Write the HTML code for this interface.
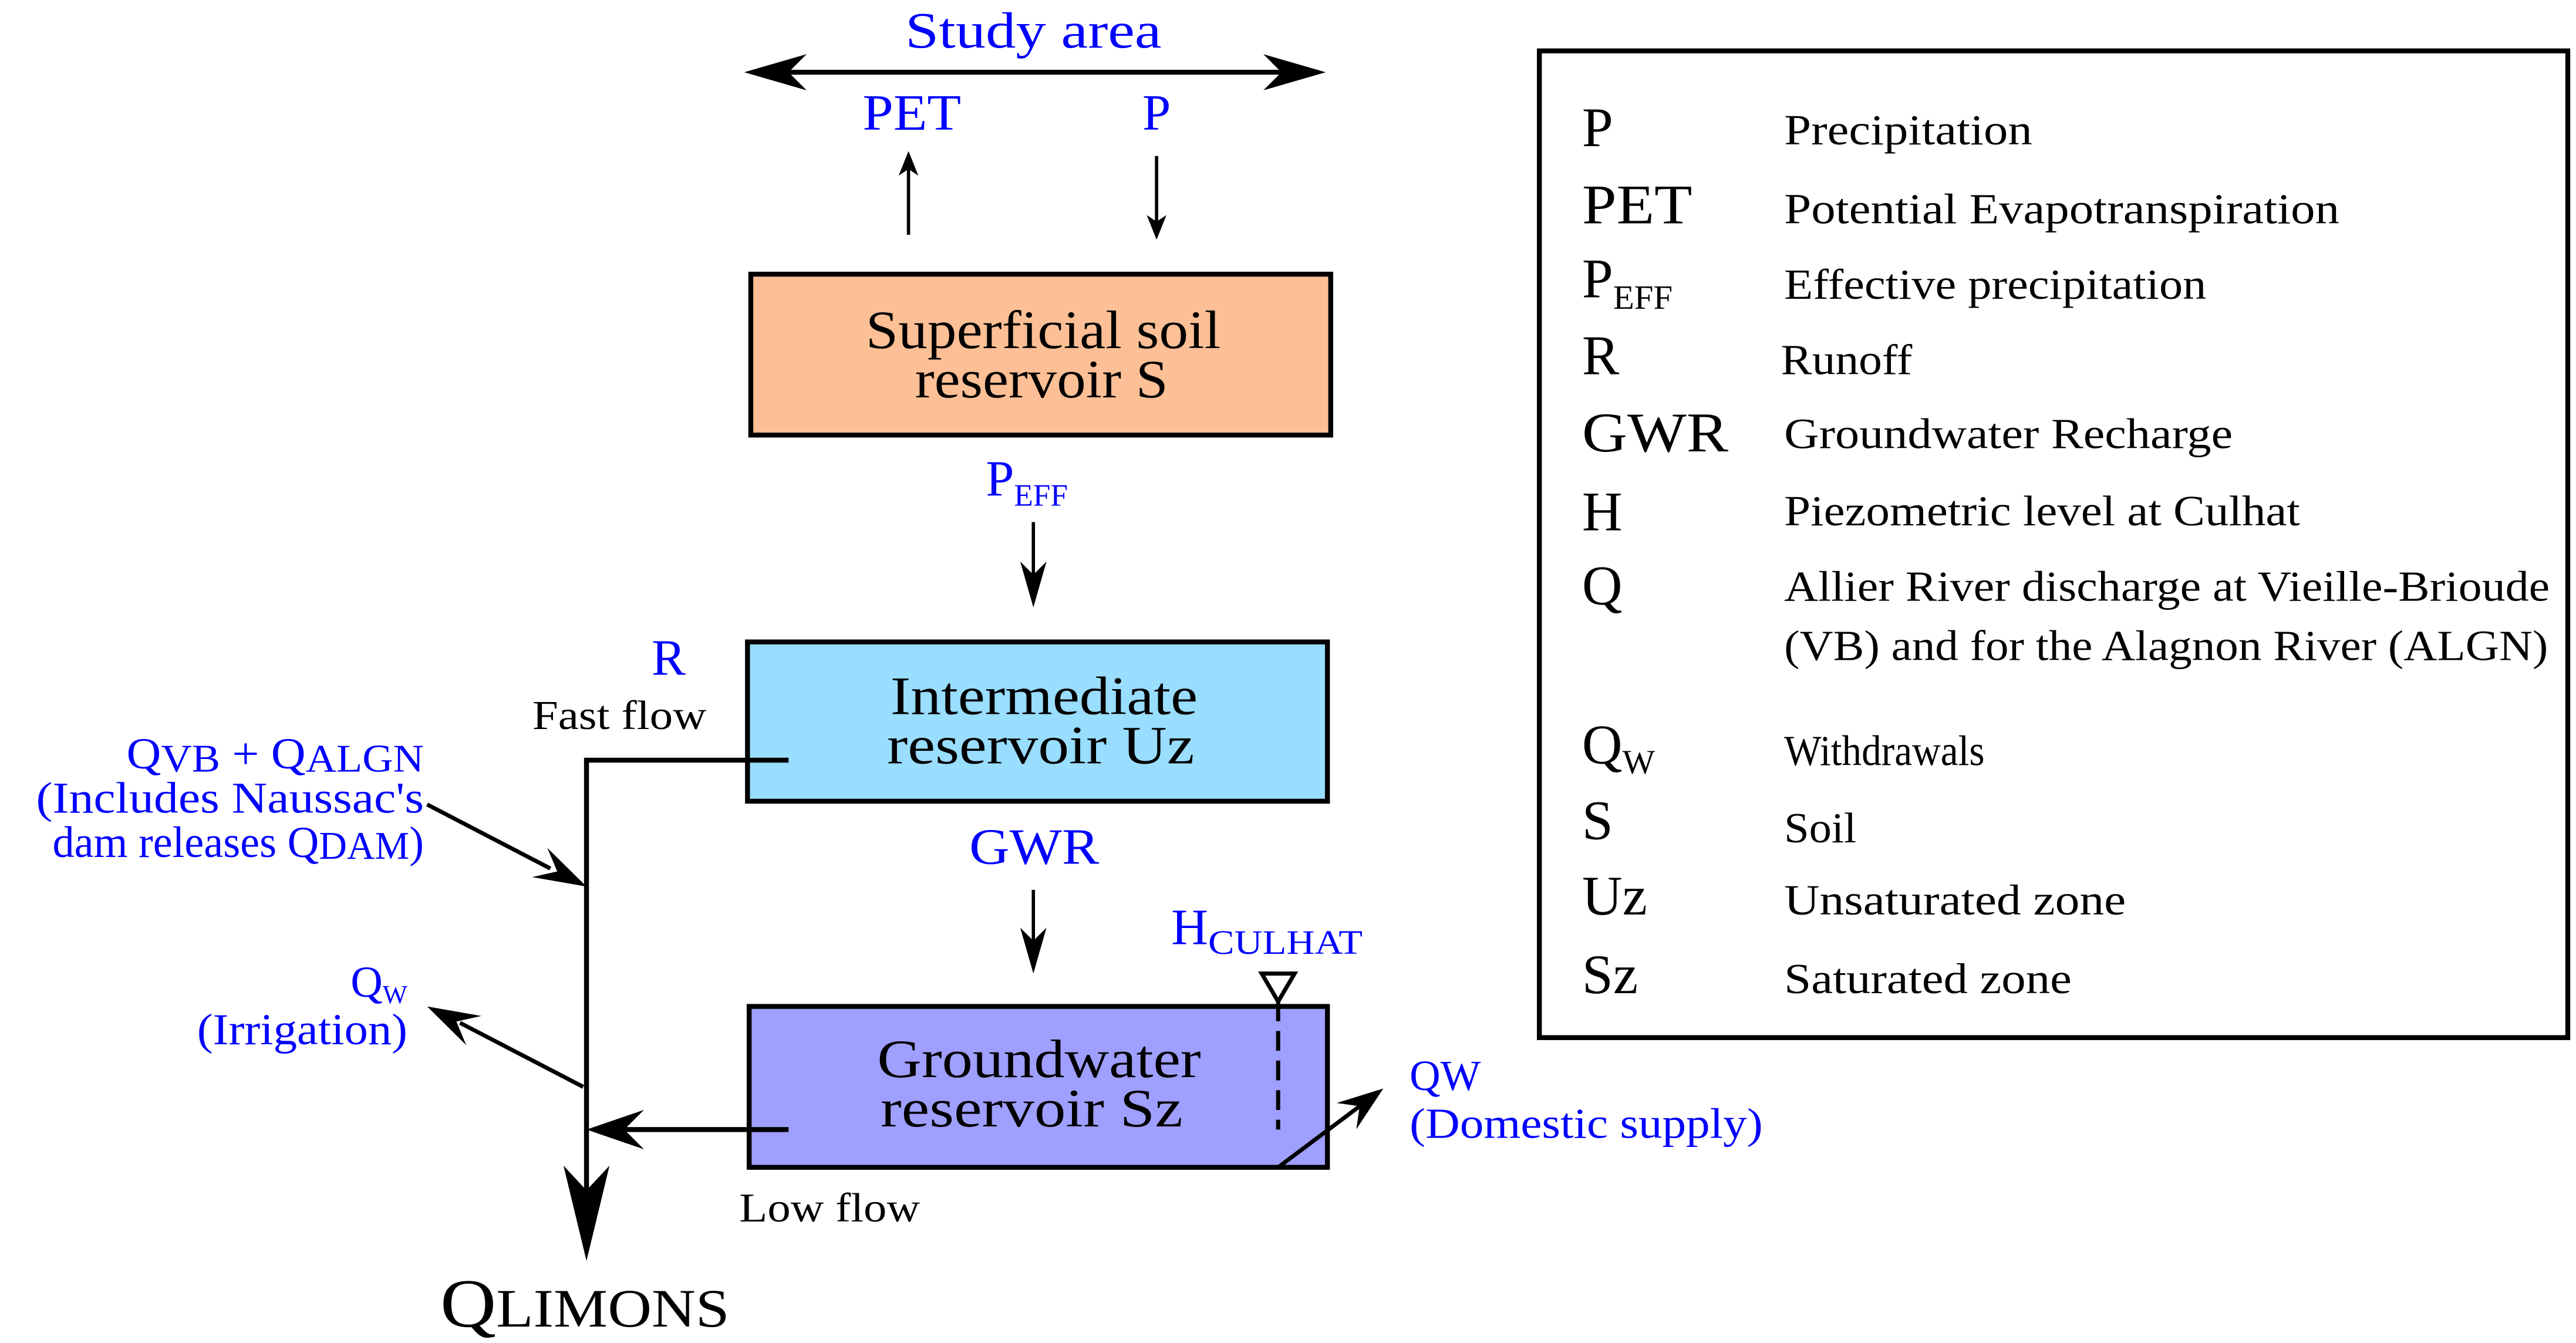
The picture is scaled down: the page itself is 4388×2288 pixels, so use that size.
<!DOCTYPE html>
<html><head><meta charset="utf-8"><style>
html,body{margin:0;padding:0;background:#fff;}
svg{display:block;}
text{font-family:"Liberation Serif",serif;}
.b{fill:#0000ff;}
</style></head><body>
<svg width="4388" height="2288" viewBox="0 0 1568 818" preserveAspectRatio="none" xmlns="http://www.w3.org/2000/svg">
<rect width="1568" height="818" fill="#fff"/>
<g lengthAdjust="spacingAndGlyphs">
<text x="551" y="29" font-size="31" class="b" textLength="156" lengthAdjust="spacingAndGlyphs">Study area</text>
<line x1="470" y1="44" x2="790" y2="44" stroke="#000" stroke-width="3"/>
<polygon points="453,44 491,33 480,44 491,55" fill="#000"/>
<polygon points="807,44 769,33 780,44 769,55" fill="#000"/>
<text x="525" y="79" font-size="31" class="b" textLength="60" lengthAdjust="spacingAndGlyphs">PET</text>
<text x="704" y="79" font-size="31" text-anchor="middle" class="b">P</text>
<line x1="553" y1="143" x2="553" y2="100" stroke="#000" stroke-width="2"/>
<polygon points="553,92 547,107 553,103 559,107" fill="#000"/>
<line x1="704" y1="95" x2="704" y2="138" stroke="#000" stroke-width="2"/>
<polygon points="704,146 698,131 704,135 710,131" fill="#000"/>
<rect x="457" y="167" width="353" height="98" fill="#FDBF95" stroke="#000" stroke-width="3"/>
<text x="527" y="212" font-size="33" textLength="216" lengthAdjust="spacingAndGlyphs">Superficial soil</text>
<text x="557" y="242" font-size="33" textLength="154" lengthAdjust="spacingAndGlyphs">reservoir S</text>
<text x="600" y="302" font-size="31" class="b">P<tspan font-size="19" dy="6">EFF</tspan></text>
<line x1="629" y1="318" x2="629" y2="355" stroke="#000" stroke-width="2"/>
<polygon points="629,370 621,342 629,350 637,342" fill="#000"/>
<rect x="455" y="391" width="353" height="97" fill="#99DDFF" stroke="#000" stroke-width="3"/>
<text x="542" y="435" font-size="33" textLength="187" lengthAdjust="spacingAndGlyphs">Intermediate</text>
<text x="540" y="465" font-size="33" textLength="187" lengthAdjust="spacingAndGlyphs">reservoir Uz</text>
<text x="407" y="411" font-size="31" text-anchor="middle" class="b">R</text>
<text x="324" y="444" font-size="25" textLength="106" lengthAdjust="spacingAndGlyphs">Fast flow</text>
<text x="590" y="526" font-size="31" class="b" textLength="79" lengthAdjust="spacingAndGlyphs">GWR</text>
<line x1="629" y1="542" x2="629" y2="578" stroke="#000" stroke-width="2"/>
<polygon points="629,593 621,565 629,573 637,565" fill="#000"/>
<rect x="456" y="613" width="352" height="98" fill="#9F9FFF" stroke="#000" stroke-width="3"/>
<text x="534" y="656" font-size="33" textLength="197" lengthAdjust="spacingAndGlyphs">Groundwater</text>
<text x="536" y="686" font-size="33" textLength="184" lengthAdjust="spacingAndGlyphs">reservoir Sz</text>
<text x="713" y="575" font-size="31" class="b">H<tspan font-size="21" dy="6" textLength="94" lengthAdjust="spacingAndGlyphs">CULHAT</tspan></text>
<polygon points="768,593 788,593 778,610" fill="#fff" stroke="#000" stroke-width="2.5"/>
<line x1="778" y1="610" x2="778" y2="688" stroke="#000" stroke-width="2.5" stroke-dasharray="12,6"/>
<line x1="778" y1="711" x2="830" y2="672" stroke="#000" stroke-width="2.5"/>
<polygon points="842,663 825.6,687.8 827.6,673.8 813.6,671.8" fill="#000"/>
<text x="858" y="664" font-size="26" class="b">QW</text>
<text x="858" y="693" font-size="26" class="b" textLength="215" lengthAdjust="spacingAndGlyphs">(Domestic supply)</text>
<polyline points="480,463 357,463 357,740" fill="none" stroke="#000" stroke-width="3"/>
<polygon points="357,768 343,710 357,725 371,710" fill="#000"/>
<line x1="260" y1="490" x2="335" y2="529" stroke="#000" stroke-width="2.5"/>
<polygon points="357,540 323.9,534.2 339.2,530.8 333.1,516.4" fill="#000"/>
<text x="77" y="468" font-size="27" class="b" textLength="181" lengthAdjust="spacingAndGlyphs">Q<tspan font-size="24" dy="2">VB</tspan><tspan dy="-2"> + Q</tspan><tspan font-size="24" dy="2">ALGN</tspan></text>
<text x="22" y="495" font-size="27" class="b" textLength="236" lengthAdjust="spacingAndGlyphs">(Includes Naussac's</text>
<text x="32" y="522" font-size="27" class="b" textLength="226" lengthAdjust="spacingAndGlyphs">dam releases Q<tspan font-size="24" dy="1">DAM</tspan><tspan dy="-1">)</tspan></text>
<line x1="355" y1="662" x2="280" y2="623" stroke="#000" stroke-width="2.5"/>
<polygon points="260,613 293,618.8 277.8,622.2 283.8,636.6" fill="#000"/>
<text x="248" y="607" font-size="27" text-anchor="end" class="b">Q<tspan font-size="16" dy="4">W</tspan></text>
<text x="120" y="636" font-size="27" class="b" textLength="128" lengthAdjust="spacingAndGlyphs">(Irrigation)</text>
<line x1="480" y1="688" x2="375" y2="688" stroke="#000" stroke-width="3"/>
<polygon points="357,688 392,676 380,688 392,700" fill="#000"/>
<text x="450" y="744" font-size="25" textLength="110" lengthAdjust="spacingAndGlyphs">Low flow</text>
<text x="268" y="808" font-size="42" textLength="176" lengthAdjust="spacingAndGlyphs">Q<tspan font-size="33">LIMONS</tspan></text>
<rect x="937" y="31" width="626" height="601" fill="none" stroke="#000" stroke-width="3"/>
<g font-size="34">
<text x="963" y="89">P</text>
<text x="963" y="136" textLength="67" lengthAdjust="spacingAndGlyphs">PET</text>
<text x="963" y="181">P<tspan font-size="21" dy="7">EFF</tspan></text>
<text x="963" y="228">R</text>
<text x="963" y="275" textLength="89" lengthAdjust="spacingAndGlyphs">GWR</text>
<text x="963" y="323">H</text>
<text x="963" y="368">Q</text>
<text x="963" y="465">Q<tspan font-size="21" dy="6">W</tspan></text>
<text x="963" y="511">S</text>
<text x="963" y="557">Uz</text>
<text x="963" y="605">Sz</text>
</g>
<g font-size="26">
<text x="1086" y="88" textLength="151" lengthAdjust="spacingAndGlyphs">Precipitation</text>
<text x="1086" y="136" textLength="338" lengthAdjust="spacingAndGlyphs">Potential Evapotranspiration</text>
<text x="1086" y="182" textLength="257" lengthAdjust="spacingAndGlyphs">Effective precipitation</text>
<text x="1084" y="228" textLength="80" lengthAdjust="spacingAndGlyphs">Runoff</text>
<text x="1086" y="273" textLength="273" lengthAdjust="spacingAndGlyphs">Groundwater Recharge</text>
<text x="1086" y="320" textLength="314" lengthAdjust="spacingAndGlyphs">Piezometric level at Culhat</text>
<text x="1086" y="366" textLength="466" lengthAdjust="spacingAndGlyphs">Allier River discharge at Vieille-Brioude</text>
<text x="1086" y="402" textLength="465" lengthAdjust="spacingAndGlyphs">(VB) and for the Alagnon River (ALGN)</text>
<text x="1086" y="466" textLength="122" lengthAdjust="spacingAndGlyphs">Withdrawals</text>
<text x="1086" y="513" textLength="44" lengthAdjust="spacingAndGlyphs">Soil</text>
<text x="1086" y="557" textLength="208" lengthAdjust="spacingAndGlyphs">Unsaturated zone</text>
<text x="1086" y="605" textLength="175" lengthAdjust="spacingAndGlyphs">Saturated zone</text>
</g>
</g>
</svg>
</body></html>
